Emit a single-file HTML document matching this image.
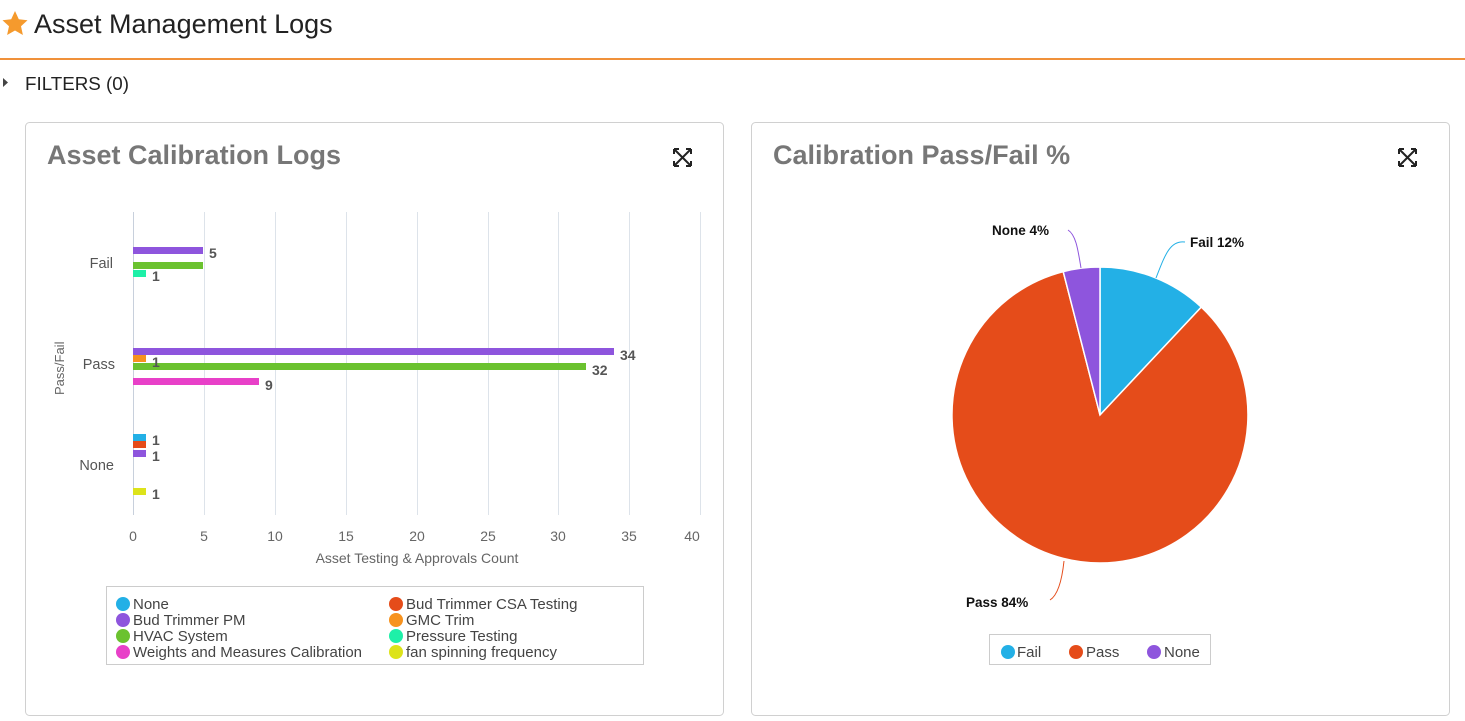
<!DOCTYPE html>
<html><head><style>
body{margin:0;width:1465px;height:721px;background:#fff;font-family:"Liberation Sans",sans-serif;overflow:hidden;position:relative}
.abs{position:absolute}
</style></head><body>
<svg class="abs" style="left:0;top:0" width="1465" height="721" xmlns="http://www.w3.org/2000/svg" font-family="Liberation Sans, sans-serif">
<polygon points="15,11 18.8,19.2 27.5,20.2 21,26.2 22.9,35 15,30.5 7.1,35 9,26.2 2.5,20.2 11.2,19.2" fill="#f59a2d"/>
<text x="34" y="33" font-size="27" fill="#222">Asset Management Logs</text>
<rect x="0" y="58" width="1465" height="2" fill="#f0913a"/>
<polygon points="3,78 8,82.5 3,87" fill="#444"/>
<text x="25" y="90" font-size="18.8" fill="#222">FILTERS (0)</text>
<rect x="25.5" y="122.5" width="698" height="593" rx="4" fill="#fff" stroke="#d0d0d0"/>
<rect x="751.5" y="122.5" width="698" height="593" rx="4" fill="#fff" stroke="#d0d0d0"/>
<text x="47" y="164" font-size="27" font-weight="bold" fill="#777">Asset Calibration Logs</text>
<text x="773" y="164" font-size="27" font-weight="bold" fill="#777">Calibration Pass/Fail %</text>
<g stroke="#222" stroke-width="2" fill="none">
<path d="M674,149 l17,17 M691,149 l-17,17 M674,149 v5 M674,149 h5 M691,149 v5 M691,149 h-5 M674,166 v-5 M674,166 h5 M691,166 v-5 M691,166 h-5"/>
<path d="M1399,149 l17,17 M1416,149 l-17,17 M1399,149 v5 M1399,149 h5 M1416,149 v5 M1416,149 h-5 M1399,166 v-5 M1399,166 h5 M1416,166 v-5 M1416,166 h-5"/>
</g>
<g stroke="#dde3ea" stroke-width="1">
<line x1="204.5" y1="212" x2="204.5" y2="515"/><line x1="275.5" y1="212" x2="275.5" y2="515"/><line x1="346.5" y1="212" x2="346.5" y2="515"/><line x1="417.5" y1="212" x2="417.5" y2="515"/><line x1="488.5" y1="212" x2="488.5" y2="515"/><line x1="558.5" y1="212" x2="558.5" y2="515"/><line x1="629.5" y1="212" x2="629.5" y2="515"/><line x1="700.5" y1="212" x2="700.5" y2="515"/>
</g>
<line x1="133.5" y1="212" x2="133.5" y2="515" stroke="#c8d0dc"/>
<g font-size="14" fill="#666" text-anchor="middle">
<text x="133" y="541">0</text><text x="204" y="541">5</text><text x="275" y="541">10</text><text x="346" y="541">15</text><text x="417" y="541">20</text><text x="488" y="541">25</text><text x="558" y="541">30</text><text x="629" y="541">35</text><text x="692" y="541">40</text>
<text x="417" y="563">Asset Testing &amp; Approvals Count</text>
</g>
<g font-size="14.5" fill="#555" text-anchor="end">
<text x="113" y="268">Fail</text><text x="115" y="369">Pass</text><text x="114" y="470">None</text>
</g>
<text transform="translate(64,395) rotate(-90)" font-size="13" fill="#666">Pass/Fail</text>
<g>
<rect x="133" y="247" width="70" height="7" fill="#8e55dd"/>
<rect x="133" y="262" width="70" height="7" fill="#6bc22f"/>
<rect x="133" y="270" width="13" height="7" fill="#1ef0a8"/>
<rect x="133" y="348" width="481" height="7" fill="#8e55dd"/>
<rect x="133" y="355" width="13" height="7" fill="#f7921e"/>
<rect x="133" y="363" width="453" height="7" fill="#6bc22f"/>
<rect x="133" y="378" width="126" height="7" fill="#e840c8"/>
<rect x="133" y="434" width="13" height="7" fill="#23b0e6"/>
<rect x="133" y="441" width="13" height="7" fill="#e54c1a"/>
<rect x="133" y="450" width="13" height="7" fill="#8e55dd"/>
<rect x="133" y="488" width="13" height="7" fill="#dde31a"/>
</g>
<g font-size="14" font-weight="bold" fill="#555">
<text x="209" y="258">5</text><text x="152" y="281">1</text>
<text x="620" y="360">34</text><text x="152" y="367">1</text><text x="592" y="375">32</text><text x="265" y="390">9</text>
<text x="152" y="445">1</text><text x="152" y="461">1</text><text x="152" y="499">1</text>
</g>
<rect x="106.5" y="586.5" width="537" height="78" fill="#fff" stroke="#ccc"/>
<g font-size="15" fill="#444">
<circle cx="123" cy="604" r="7" fill="#23b0e6"/><text x="133" y="609">None</text>
<circle cx="123" cy="620" r="7" fill="#8e55dd"/><text x="133" y="625">Bud Trimmer PM</text>
<circle cx="123" cy="636" r="7" fill="#6bc22f"/><text x="133" y="641">HVAC System</text>
<circle cx="123" cy="652" r="7" fill="#e840c8"/><text x="133" y="657">Weights and Measures Calibration</text>
<circle cx="396" cy="604" r="7" fill="#e54c1a"/><text x="406" y="609">Bud Trimmer CSA Testing</text>
<circle cx="396" cy="620" r="7" fill="#f7921e"/><text x="406" y="625">GMC Trim</text>
<circle cx="396" cy="636" r="7" fill="#1ef0a8"/><text x="406" y="641">Pressure Testing</text>
<circle cx="396" cy="652" r="7" fill="#dde31a"/><text x="406" y="657">fan spinning frequency</text>
</g>
<g stroke="#fff" stroke-width="1.5">
<path d="M1100,415 L1100,267 A148,148 0 0 1 1201.3,307.1 Z" fill="#23b0e6"/>
<path d="M1100,415 L1201.3,307.1 A148,148 0 1 1 1063.2,271.6 Z" fill="#e54c1a"/>
<path d="M1100,415 L1063.2,271.6 A148,148 0 0 1 1100,267 Z" fill="#8e55dd"/>
</g>
<path d="M1156,278 C1165,255 1170,240 1185,242" fill="none" stroke="#23b0e6"/>
<path d="M1081,268 C1078,250 1076,235 1068,230" fill="none" stroke="#8e55dd"/>
<path d="M1064,561 C1062,580 1058,595 1050,600" fill="none" stroke="#e54c1a"/>
<g font-size="13.5" font-weight="bold" fill="#111">
<text x="1190" y="247">Fail 12%</text>
<text x="992" y="235">None 4%</text>
<text x="966" y="607">Pass 84%</text>
</g>
<rect x="989.5" y="634.5" width="221" height="30" fill="#fff" stroke="#ccc"/>
<g font-size="15" fill="#444">
<circle cx="1008" cy="652" r="7" fill="#23b0e6"/><text x="1017" y="657">Fail</text>
<circle cx="1076" cy="652" r="7" fill="#e54c1a"/><text x="1086" y="657">Pass</text>
<circle cx="1154" cy="652" r="7" fill="#8e55dd"/><text x="1164" y="657">None</text>
</g>
</svg>
</body></html>
